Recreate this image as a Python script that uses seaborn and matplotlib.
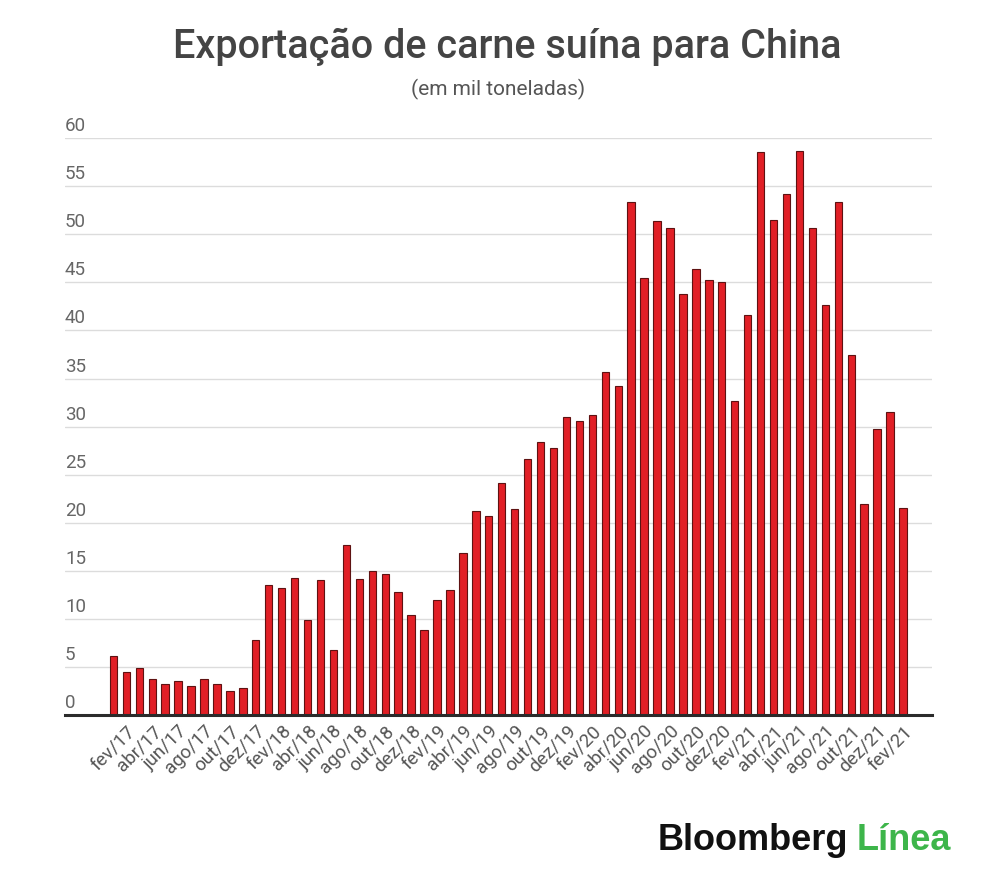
import numpy as np
import pandas as pd
import matplotlib
matplotlib.use("Agg")
import matplotlib.pyplot as plt
import seaborn as sns

# dados: exportação mensal de carne suína para a China (mil toneladas), jan/17 a fev/22
meses_abrev = ["jan", "fev", "mar", "abr", "mai", "jun", "jul", "ago", "set", "out", "nov", "dez"]
meses = [f"{m}/{a}" for a in ["17", "18", "19", "20", "21", "22"] for m in meses_abrev][:62]

valores = [
    6.1, 4.5, 4.9, 3.7, 3.2, 3.5, 3.0, 3.7, 3.2, 2.5, 2.8, 7.8,
    13.5, 13.2, 14.3, 9.9, 14.0, 6.8, 17.7, 14.1, 15.0, 14.7, 12.8, 10.4,
    8.8, 12.0, 13.0, 16.9, 21.2, 20.7, 24.1, 21.4, 26.6, 28.4, 27.8, 31.0,
    30.6, 31.2, 35.7, 34.2, 53.4, 45.5, 51.4, 50.7, 43.8, 46.4, 45.3, 45.0,
    32.7, 41.6, 58.6, 51.5, 54.2, 58.7, 50.7, 42.6, 53.4, 37.4, 21.9, 29.8,
    31.5, 21.5,
]

# rótulos do eixo x (um a cada dois meses, como no original)
rotulos_x = [
    "fev/17", "abr/17", "jun/17", "ago/17", "out/17", "dez/17",
    "fev/18", "abr/18", "jun/18", "ago/18", "out/18", "dez/18",
    "fev/19", "abr/19", "jun/19", "ago/19", "out/19", "dez/19",
    "fev/20", "abr/20", "jun/20", "ago/20", "out/20", "dez/20",
    "fev/21", "abr/21", "jun/21", "ago/21", "out/21", "dez/21",
    "fev/21",
]
ticks_y = [0, 5, 10, 15, 20, 25, 30, 35, 40, 45, 50, 55, 60]

df = pd.DataFrame({"mes": meses, "valor": valores})

sns.set_theme(style="white")
plt.rcParams["font.family"] = ["Roboto", "DejaVu Sans"]

fig = plt.figure(figsize=(10, 8.86), dpi=100)
ax = fig.add_axes([0.065, 0.193, 0.867, 0.651])

sns.barplot(
    data=df,
    x="mes",
    y="valor",
    color="#e11f26",
    saturation=1,
    width=0.57,
    edgecolor="#5e1212",
    linewidth=0.8,
    ax=ax,
    zorder=3,
)

ax.set_ylim(0, 60)
ax.set_xlim(-3.74, 63.24)
ax.set_yticks(ticks_y)
ax.set_yticklabels([])
ax.tick_params(axis="y", length=0)
ax.grid(axis="y", color="#dcdcdc", linewidth=1, zorder=0)
ax.set_axisbelow(True)
for s in ["top", "right", "left"]:
    ax.spines[s].set_visible(False)
ax.spines["bottom"].set_color("#2b2b2b")
ax.spines["bottom"].set_linewidth(2.2)
ax.spines["bottom"].set_zorder(4)

# rótulos do eixo y acima das linhas de grade
for v in ticks_y:
    ax.annotate(
        str(v),
        xy=(0, v),
        xycoords=("axes fraction", "data"),
        xytext=(0, 3),
        textcoords="offset pixels",
        ha="left",
        va="bottom",
        fontsize=13.5,
        color="#666666",
    )

ax.set_xticks(range(1, len(meses), 2))
ax.set_xticklabels(rotulos_x, rotation=45, ha="right", rotation_mode="anchor",
                   fontsize=13.5, color="#555555")
ax.tick_params(axis="x", length=0, pad=5)
ax.set_xlabel("")
ax.set_ylabel("")

fig.text(0.507, 0.947, "Exportação de carne suína para China", ha="center", va="center",
         fontsize=28.5, fontweight="medium", color="#444444")
fig.text(0.498, 0.899, "(em mil toneladas)", ha="center", va="center",
         fontsize=15, color="#555555")

fig.text(0.848, 0.0406, "Bloomberg", ha="right", va="baseline", fontsize=26,
         fontweight="bold", color="#111111", family=["Liberation Sans", "DejaVu Sans"])
fig.text(0.857, 0.0406, "Línea", ha="left", va="baseline", fontsize=26,
         fontweight="bold", color="#3db54a", family=["Liberation Sans", "DejaVu Sans"])

fig.savefig("out.png", dpi=100, facecolor="white")
